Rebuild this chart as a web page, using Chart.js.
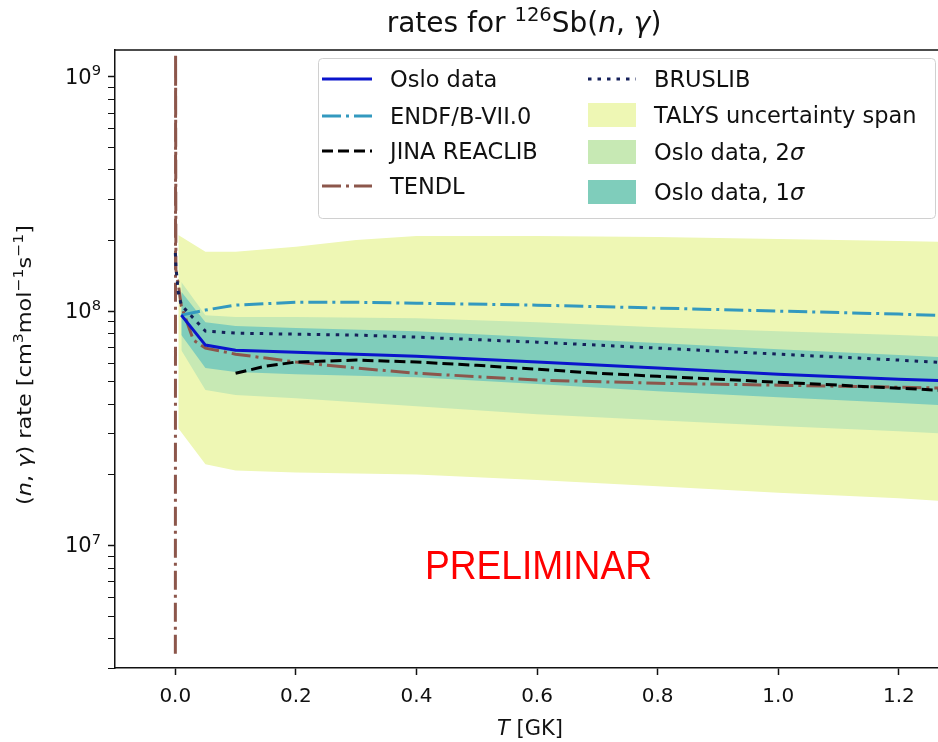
<!DOCTYPE html>
<html>
<head>
<meta charset="utf-8">
<title>rates for 126Sb(n, gamma)</title>
<script src="https://cdn.jsdelivr.net/npm/chart.js@4.4.1/dist/chart.umd.min.js"></script>
<style>
  html, body { margin: 0; padding: 0; background: #fff; }
  canvas { display: block; }
</style>
</head>
<body>
<canvas id="rateChart" width="938" height="742"></canvas>
<script>
// temperatures in GK, rates in cm^3 mol^-1 s^-1
const osloT      = [0.01, 0.05, 0.1, 0.2, 0.4, 0.6, 0.8, 1.0, 1.2, 1.3];
const osloRate   = [9.61e7, 7.16e7, 6.81e7, 6.68e7, 6.42e7, 6.06e7, 5.71e7, 5.38e7, 5.12e7, 5.02e7];
const oslo1sLow  = [7.90e7, 5.71e7, 5.49e7, 5.38e7, 5.22e7, 4.88e7, 4.55e7, 4.29e7, 4.05e7, 3.93e7];
const oslo1sHigh = [1.21e8, 8.97e7, 8.63e7, 8.46e7, 8.21e7, 7.74e7, 7.30e7, 6.88e7, 6.49e7, 6.30e7];
const oslo2sLow  = [6.81e7, 4.60e7, 4.38e7, 4.25e7, 3.93e7, 3.63e7, 3.42e7, 3.23e7, 3.07e7, 2.98e7];
const oslo2sHigh = [1.33e8, 9.61e7, 9.43e7, 9.43e7, 9.33e7, 8.97e7, 8.54e7, 8.21e7, 7.90e7, 7.74e7];

const talysT    = [0.005, 0.05, 0.1, 0.2, 0.3, 0.4, 0.6, 0.8, 1.0, 1.2, 1.3];
const talysLow  = [3.16e7, 2.22e7, 2.09e7, 2.05e7, 2.03e7, 2.01e7, 1.90e7, 1.79e7, 1.68e7, 1.59e7, 1.53e7];
const talysHigh = [2.11e8, 1.79e8, 1.79e8, 1.88e8, 2.01e8, 2.09e8, 2.09e8, 2.07e8, 2.03e8, 1.99e8, 1.97e8];

const endfT    = [0.01, 0.05, 0.1, 0.2, 0.3, 0.4, 0.6, 0.8, 1.0, 1.2, 1.3];
const endfRate = [9.61e7, 1.01e8, 1.06e8, 1.09e8, 1.09e8, 1.08e8, 1.06e8, 1.03e8, 1.00e8, 9.71e7, 9.52e7];

const jinaT    = [0.1, 0.15, 0.2, 0.3, 0.4, 0.5, 0.6, 0.7, 0.8, 0.9, 1.0, 1.2, 1.3];
const jinaRate = [5.43e7, 5.82e7, 6.06e7, 6.18e7, 6.06e7, 5.87e7, 5.65e7, 5.43e7, 5.27e7, 5.12e7, 4.97e7, 4.69e7, 4.55e7];

const tendlT    = [0.0001, 0.0005, 0.001, 0.005, 0.01, 0.03, 0.05, 0.1, 0.15, 0.2, 0.3, 0.4, 0.6, 0.8, 1.0, 1.2, 1.3];
const tendlRate = [3.45e6, 1.24e9, 1.5e8, 1.3e8, 1.05e8, 7.52e7, 6.95e7, 6.55e7, 6.30e7, 6.06e7, 5.71e7, 5.43e7, 5.08e7, 4.92e7, 4.83e7, 4.73e7, 4.68e7];

const bruslibT    = [0.0001, 0.001, 0.005, 0.01, 0.05, 0.1, 0.2, 0.3, 0.4, 0.6, 0.8, 1.0, 1.2, 1.3];
const bruslibRate = [1.77e8, 1.55e8, 1.2e8, 1.06e8, 8.21e7, 8.05e7, 7.97e7, 7.90e7, 7.74e7, 7.37e7, 6.95e7, 6.55e7, 6.18e7, 5.97e7];

const xTicks = [0.0, 0.2, 0.4, 0.6, 0.8, 1.0, 1.2];
const yDecades = [1e6, 1e7, 1e8, 1e9];
const yMantissas = [1, 2, 3, 4, 5, 6, 7, 8, 9];
const yMajor = [1e7, 1e8, 1e9];
const yMajorExp = ['7', '8', '9'];

const titleRuns = [{ t: 'rates for ' }, { t: '126', sup: true }, { t: 'Sb(' }, { t: 'n', it: true }, { t: ', ' }, { t: 'γ', it: true }, { t: ')' }];
const xLabelRuns = [{ t: 'T', it: true }, { t: ' [GK]' }];
const yLabelRuns = [{ t: '(' }, { t: 'n', it: true }, { t: ', ' }, { t: 'γ', it: true }, { t: ') rate [cm' }, { t: '3', sup: true },
  { t: 'mol' }, { t: '−1', sup: true }, { t: 's' }, { t: '−1', sup: true }, { t: ']' }];
const watermark = 'PRELIMINAR';

const pts = (xs, ys) => xs.map((x, i) => ({ x: x, y: ys[i] }));

function drawRuns(ctx, runs, x, y, o) {
  const size = o.size;
  const fontOf = r => (r.it ? 'italic ' : '') + (r.sup ? size * 0.7 : size) + 'px "' + (o.family || 'DejaVu Sans') + '"';
  let w = 0;
  runs.forEach(r => { ctx.font = fontOf(r); w += ctx.measureText(r.t).width; });
  const sx = o.width ? o.width / w : 1;
  ctx.save();
  ctx.translate(x, y);
  if (o.rotate) ctx.rotate(o.rotate);
  ctx.scale(sx, 1);
  ctx.fillStyle = o.color || '#111';
  ctx.textAlign = 'left';
  ctx.textBaseline = 'alphabetic';
  let cx = o.align === 'left' ? 0 : o.align === 'right' ? -w : -w / 2;
  runs.forEach(r => {
    ctx.font = fontOf(r);
    ctx.fillText(r.t, cx, r.sup ? -size * 0.4 : 0);
    cx += ctx.measureText(r.t).width;
  });
  ctx.restore();
}

const legendCols = [
  { handle: [322, 372], text: 390, rows: [['Oslo data', 79], ['ENDF/B-VII.0', 116], ['JINA REACLIB', 151], ['TENDL', 186]] },
  { handle: [588, 636], text: 654, rows: [['BRUSLIB', 79], ['TALYS uncertainty span', 115], ['Oslo data, 2σ', 152], ['Oslo data, 1σ', 192]] }
];

const decor = {
  id: 'decor',
  afterDraw(chart) {
    const ctx = chart.ctx, a = chart.chartArea;
    ctx.save();
    ctx.strokeStyle = '#111';
    ctx.lineWidth = 1.5;
    ctx.beginPath();
    ctx.moveTo(a.left, a.top);
    ctx.lineTo(a.right, a.top);
    ctx.stroke();

    // y tick labels as 10^n
    const ys = chart.scales.y;
    yMajor.forEach((v, i) => {
      drawRuns(ctx, [{ t: '10' }, { t: yMajorExp[i], sup: true }], a.left - 14, ys.getPixelForValue(v) + 7, { size: 21, align: 'right' });
    });

    drawRuns(ctx, titleRuns, 524, 32, { size: 28 });
    drawRuns(ctx, xLabelRuns, 530, 735, { size: 21 });
    drawRuns(ctx, yLabelRuns, 31, 365, { size: 20, width: 280, rotate: -Math.PI / 2 });

    // watermark
    ctx.fillStyle = '#ff0000';
    ctx.font = '40px "Liberation Sans", Arial, sans-serif';
    ctx.textAlign = 'left';
    ctx.textBaseline = 'alphabetic';
    ctx.fillText(watermark, 425, 579, 227);

    // legend
    ctx.beginPath();
    ctx.roundRect(318.5, 58.5, 617, 160, 4);
    ctx.fillStyle = 'rgba(255,255,255,0.85)';
    ctx.fill();
    ctx.strokeStyle = '#d0d0d0';
    ctx.lineWidth = 1;
    ctx.stroke();
    legendCols.forEach(col => {
      col.rows.forEach(([name, y]) => {
        const ds = chart.data.datasets.find(d => d.label === name);
        if (ds.fill) {
          ctx.fillStyle = ds.backgroundColor;
          ctx.fillRect(col.handle[0], y - 12, col.handle[1] - col.handle[0], 24);
        } else {
          ctx.strokeStyle = ds.borderColor;
          ctx.lineWidth = ds.borderWidth;
          ctx.setLineDash(ds.borderDash || []);
          ctx.beginPath();
          ctx.moveTo(col.handle[0], y);
          ctx.lineTo(col.handle[1], y);
          ctx.stroke();
          ctx.setLineDash([]);
        }
        const runs = name.split(/(σ)/).filter(s => s).map(s => ({ t: s, it: s === 'σ' }));
        drawRuns(ctx, runs, col.text, y + 8, { size: 22.5, align: 'left' });
      });
    });
    ctx.restore();
  }
};

const band = (label, xs, ys, color, fillTo, order) => ({
  label: label, data: pts(xs, ys), borderWidth: 0, borderColor: 'rgba(0,0,0,0)',
  pointRadius: 0, backgroundColor: color, fill: fillTo, order: order
});
const line = (label, xs, ys, color, dash, width, order) => ({
  label: label, data: pts(xs, ys), borderColor: color, borderDash: dash, borderWidth: width,
  pointRadius: 0, fill: false, order: order, borderCapStyle: 'butt'
});

const datasets = [
  band('TALYS low', talysT, talysLow, '#eef7b4', false, 10),
  band('TALYS uncertainty span', talysT, talysHigh, '#eef7b4', { target: 0 }, 10),
  band('Oslo 2s low', osloT, oslo2sLow, '#c7e9b4', false, 9),
  band('Oslo data, 2σ', osloT, oslo2sHigh, '#c7e9b4', { target: 2 }, 9),
  band('Oslo 1s low', osloT, oslo1sLow, '#7fcdbb', false, 8),
  band('Oslo data, 1σ', osloT, oslo1sHigh, '#7fcdbb', { target: 4 }, 8),
  line('TENDL', tendlT, tendlRate, '#8c564b', [19, 5, 3, 5], 3, 5),
  line('JINA REACLIB', jinaT, jinaRate, '#000000', [11, 5], 3, 4),
  line('ENDF/B-VII.0', endfT, endfRate, '#3399bf', [19, 5, 3, 5], 3, 3),
  line('BRUSLIB', bruslibT, bruslibRate, '#15205a', [3.5, 6], 3, 2),
  line('Oslo data', osloT, osloRate, '#0a14cc', [], 3, 1)
];

const tickFont = { family: 'DejaVu Sans', size: 20 };

new Chart(document.getElementById('rateChart').getContext('2d'), {
  type: 'line',
  data: { datasets: datasets },
  plugins: [decor],
  options: {
    responsive: false,
    devicePixelRatio: 1,
    animation: false,
    layout: { padding: { top: 50, left: 0, right: 0, bottom: 0 } },
    elements: { line: { tension: 0 } },
    plugins: { legend: { display: false }, tooltip: { enabled: false }, title: { display: false } },
    scales: {
      x: {
        type: 'linear',
        min: -0.1,
        max: 1.265,
        afterBuildTicks: s => { s.ticks = xTicks.map(v => ({ value: v })); },
        afterFit: s => { s.height = 74; },
        ticks: { autoSkip: false, maxRotation: 0, color: '#111', font: tickFont, padding: 10, callback: v => v.toFixed(1) },
        grid: { drawOnChartArea: false, tickLength: 7, tickColor: '#111', tickWidth: 1.5 },
        border: { color: '#111', width: 1.5 }
      },
      y: {
        type: 'logarithmic',
        min: 3.0e6,
        max: 1.3e9,
        afterBuildTicks: s => {
          const t = [];
          yDecades.forEach(d => yMantissas.forEach(m => {
            const v = d * m;
            if (v >= s.min && v <= s.max) t.push({ value: v, major: m === 1 });
          }));
          s.ticks = t;
        },
        afterFit: s => { s.width = 115; },
        ticks: { autoSkip: false, color: '#111', font: tickFont, padding: 7, callback: () => '' },
        grid: {
          drawOnChartArea: false, tickLength: 7, tickColor: '#111',
          tickWidth: c => (c.tick && c.tick.major ? 1.5 : 1)
        },
        border: { color: '#111', width: 1.5 }
      }
    }
  }
});
</script>
</body>
</html>
